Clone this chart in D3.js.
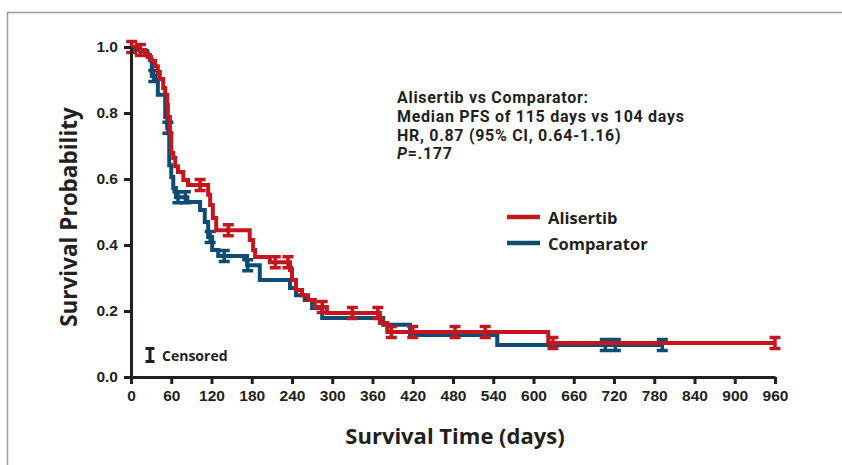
<!DOCTYPE html>
<html>
<head>
<meta charset="utf-8">
<script src="https://cdn.jsdelivr.net/npm/d3@7"></script>
<style>
  body { margin: 0; background: #fff; }
  svg { display: block; font-family: "Open Sans", "Noto Sans", sans-serif; }
</style>
</head>
<body>
<div id="chart"></div>
<script>
// Kaplan-Meier steps: [day, survival after the drop]
const alisertibSteps = [
    [13, 0.991], [21, 0.982], [25, 0.970], [30, 0.958], [36, 0.942], [40, 0.924],
    [43, 0.903], [48, 0.876], [51, 0.855], [54, 0.824], [55, 0.788], [58, 0.739],
    [60, 0.679], [63, 0.664], [66, 0.639], [70, 0.621], [78, 0.597], [85, 0.582],
    [115, 0.552], [118, 0.521], [122, 0.482], [127, 0.445], [177, 0.415], [182, 0.385],
    [185, 0.364], [207, 0.348], [237, 0.324], [240, 0.294], [246, 0.264], [255, 0.248],
    [264, 0.233], [274, 0.212], [292, 0.194], [371, 0.164], [382, 0.136], [622, 0.103]
];
const alisertibCensored = [1, 14, 103, 145, 215, 234, 285, 330, 368, 388, 420, 483, 528, 629, 960];
const alisertibEnd = 960;

const comparatorSteps = [
    [6, 0.994], [13, 0.988], [24, 0.976], [28, 0.961], [31, 0.912], [37, 0.900],
    [40, 0.855], [51, 0.788], [54, 0.755], [57, 0.642], [60, 0.606], [63, 0.573],
    [67, 0.545], [84, 0.530], [103, 0.506], [110, 0.470], [115, 0.424], [121, 0.385],
    [130, 0.367], [173, 0.339], [192, 0.294], [237, 0.270], [246, 0.248], [259, 0.233],
    [270, 0.209], [285, 0.179], [376, 0.158], [416, 0.127], [546, 0.097]
];
const comparatorCensored = [34, 55, 70, 81, 118, 139, 174, 707, 722, 792];
const comparatorEnd = 792;

const xTicks = d3.range(0, 961, 60);
const yTicks = [0, 0.2, 0.4, 0.6, 0.8, 1.0];

const seriesNames = ["Alisertib", "Comparator"];
const seriesColors = ["#c5161d", "#0d4d73"];

const noteLines = [
    "Alisertib vs Comparator:",
    "Median PFS of 115 days vs 104 days",
    "HR, 0.87 (95% CI, 0.64-1.16)"
];

const width = 842, height = 465;
const ink = "#231f20";
const svg = d3.select("#chart").append("svg")
    .attr("width", width)
    .attr("height", height);

// frame
svg.append("path")
    .attr("d", `M7.5,${height}V12.5H${width}`)
    .attr("fill", "none")
    .attr("stroke", "#9a9a9a")
    .attr("stroke-width", 1.5);

const x = d3.scaleLinear().domain([0, 960]).range([131, 775]);
const y = d3.scaleLinear().domain([0, 1]).range([377, 47]);

function survivalAt(steps, t) {
    let s = 1;
    for (const [d, v] of steps) { if (d <= t) s = v; }
    return s;
}

function drawSeries(steps, censored, end, color) {
    const pts = [[0, 1], ...steps, [end, steps[steps.length - 1][1]]];
    svg.append("path")
        .datum(pts)
        .attr("fill", "none")
        .attr("stroke", color)
        .attr("stroke-width", 4)
        .attr("d", d3.line().x(d => x(d[0])).y(d => y(d[1])).curve(d3.curveStepAfter));

    svg.append("g")
        .selectAll("path")
        .data(censored)
        .join("path")
            .attr("fill", "none")
            .attr("stroke", color)
            .attr("stroke-width", 3.5)
            .attr("d", d => {
                const cx = x(d), cy = y(survivalAt(steps, d));
                return `M${cx - 5.5},${cy - 5.5}H${cx + 5.5}M${cx},${cy - 5.5}V${cy + 5.5}M${cx - 5.5},${cy + 5.5}H${cx + 5.5}`;
            });
}

drawSeries(comparatorSteps, comparatorCensored, comparatorEnd, seriesColors[1]);
drawSeries(alisertibSteps, alisertibCensored, alisertibEnd, seriesColors[0]);

// axes
const xAxis = svg.append("g")
    .attr("transform", `translate(0,${y(0)})`)
    .call(d3.axisBottom(x).tickValues(xTicks).tickSize(7).tickSizeOuter(0).tickPadding(6));
const yAxis = svg.append("g")
    .attr("transform", `translate(${x(0)},0)`)
    .call(d3.axisLeft(y).tickValues(yTicks).tickFormat(d3.format(".1f")).tickSize(7).tickSizeOuter(0).tickPadding(6));

[xAxis, yAxis].forEach(g => {
    g.select(".domain").attr("stroke", ink).attr("stroke-width", 3);
    g.selectAll(".tick line").attr("stroke", ink).attr("stroke-width", 3);
    g.selectAll(".tick text")
        .attr("fill", ink)
        .style("font-size", "15.5px")
        .style("font-weight", 700);
});

svg.append("text")
    .attr("x", 455).attr("y", 444)
    .attr("text-anchor", "middle")
    .attr("fill", ink)
    .style("font-size", "22px").style("font-weight", 700)
    .text("Survival Time (days)");

svg.append("text")
    .attr("transform", "translate(77,217) rotate(-90)")
    .attr("text-anchor", "middle")
    .attr("fill", ink)
    .style("font-size", "22.5px").style("font-weight", 700)
    .text("Survival Probability");

// annotation (Roboto: tighter line box so the lines don't overlap)
const note = svg.append("g")
    .attr("fill", ink)
    .style("font-family", "Roboto, 'Open Sans', sans-serif")
    .style("font-size", "16px").style("font-weight", 700)
    .style("letter-spacing", "0.7px");
noteLines.forEach((t, i) => {
    note.append("text").attr("x", 397).attr("y", 103 + i * 18.8).text(t);
});
const pLine = note.append("text").attr("x", 397).attr("y", 103 + 3 * 18.8);
pLine.append("tspan").style("font-style", "italic").text("P");
pLine.append("tspan").text("=.177");

// legend
const legend = svg.append("g")
    .selectAll("g")
    .data(seriesNames)
    .join("g")
        .attr("transform", (d, i) => `translate(507,${217 + i * 26})`);
legend.append("line")
    .attr("x1", 0).attr("x2", 33)
    .attr("stroke", (d, i) => seriesColors[i])
    .attr("stroke-width", 4.5);
legend.append("text")
    .attr("x", 41).attr("y", 7)
    .attr("fill", ink)
    .style("font-size", "16.5px").style("font-weight", 700)
    .text(d => d);

// censored key
svg.append("path")
    .attr("fill", "none")
    .attr("stroke", ink)
    .attr("stroke-width", 3)
    .attr("d", "M145.5,348.5H154.5M150,348.5V361.5M145.5,361.5H154.5");
svg.append("text")
    .attr("x", 162).attr("y", 361)
    .attr("fill", ink)
    .style("font-size", "14px").style("font-weight", 700)
    .text("Censored");
</script>
</body>
</html>
